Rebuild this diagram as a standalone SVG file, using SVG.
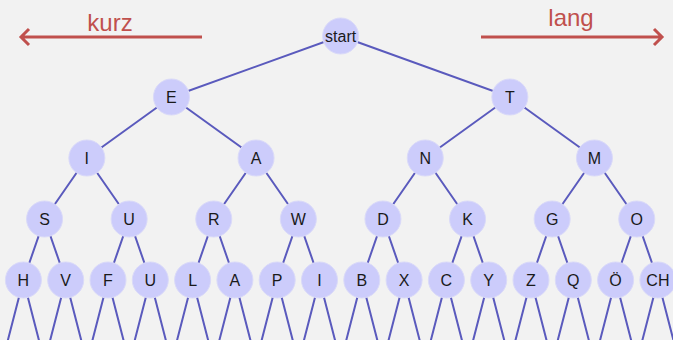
<svg xmlns="http://www.w3.org/2000/svg" width="673" height="340" viewBox="0 0 673 340">
<style>
.e{stroke:#5a5abd;stroke-width:2;fill:none}
.n circle{fill:#ccccfb;stroke:#dadaf9;stroke-width:1}
.n text{font-family:"Liberation Sans",Arial,sans-serif;font-size:16px;fill:#1a1a1a;text-anchor:middle}
.a{stroke:#c0504d;stroke-width:3;fill:none}
.t{font-family:"Liberation Sans",Arial,sans-serif;font-size:24px;fill:#c0504d;text-anchor:middle}
</style>
<rect width="673" height="340" fill="#f2f2f2"/>
<g id="arrows">
<path class="a" d="M202 37 H21 M29 29 L21 37 L29 45"/>
<path class="a" d="M481 37 H662 M654 29 L662 37 L654 45"/>
<text class="t" x="110" y="31">kurz</text>
<text class="t" x="571" y="26">lang</text>
</g>
<g id="edges">
<path class="e" d="M340.65 36 L171.45 97 M340.65 36 L509.85 97
M171.45 97 L86.85 158 M171.45 97 L256.05 158 M509.85 97 L425.25 158 M509.85 97 L594.45 158
M86.85 158 L44.55 219 M86.85 158 L129.15 219 M256.05 158 L213.75 219 M256.05 158 L298.35 219
M425.25 158 L382.95 219 M425.25 158 L467.55 219 M594.45 158 L552.15 219 M594.45 158 L636.75 219
M44.55 219 L23.4 280 M44.55 219 L65.7 280 M129.15 219 L108 280 M129.15 219 L150.3 280
M213.75 219 L192.6 280 M213.75 219 L234.9 280 M298.35 219 L277.2 280 M298.35 219 L319.5 280
M382.95 219 L361.8 280 M382.95 219 L404.1 280 M467.55 219 L446.4 280 M467.55 219 L488.7 280
M552.15 219 L531 280 M552.15 219 L573.3 280 M636.75 219 L615.6 280 M636.75 219 L657.9 280
M23.4 280 l-16 62 M23.4 280 l16 62 M65.7 280 l-16 62 M65.7 280 l16 62
M108 280 l-16 62 M108 280 l16 62 M150.3 280 l-16 62 M150.3 280 l16 62
M192.6 280 l-16 62 M192.6 280 l16 62 M234.9 280 l-16 62 M234.9 280 l16 62
M277.2 280 l-16 62 M277.2 280 l16 62 M319.5 280 l-16 62 M319.5 280 l16 62
M361.8 280 l-16 62 M361.8 280 l16 62 M404.1 280 l-16 62 M404.1 280 l16 62
M446.4 280 l-16 62 M446.4 280 l16 62 M488.7 280 l-16 62 M488.7 280 l16 62
M531 280 l-16 62 M531 280 l16 62 M573.3 280 l-16 62 M573.3 280 l16 62
M615.6 280 l-16 62 M615.6 280 l16 62 M657.9 280 l-16 62 M657.9 280 l16 62"/>
</g>
<g id="n-start" class="n"><circle cx="340.65" cy="36" r="18"/><text x="340.65" y="42">start</text></g>
<g id="n-E" class="n"><circle cx="171.45" cy="97" r="18"/><text x="171.45" y="103">E</text></g>
<g id="n-T" class="n"><circle cx="509.85" cy="97" r="18"/><text x="509.85" y="103">T</text></g>
<g id="n-I" class="n"><circle cx="86.85" cy="158" r="18"/><text x="86.85" y="164">I</text></g>
<g id="n-A" class="n"><circle cx="256.05" cy="158" r="18"/><text x="256.05" y="164">A</text></g>
<g id="n-N" class="n"><circle cx="425.25" cy="158" r="18"/><text x="425.25" y="164">N</text></g>
<g id="n-M" class="n"><circle cx="594.45" cy="158" r="18"/><text x="594.45" y="164">M</text></g>
<g id="n-S" class="n"><circle cx="44.55" cy="219" r="18"/><text x="44.55" y="225">S</text></g>
<g id="n-U" class="n"><circle cx="129.15" cy="219" r="18"/><text x="129.15" y="225">U</text></g>
<g id="n-R" class="n"><circle cx="213.75" cy="219" r="18"/><text x="213.75" y="225">R</text></g>
<g id="n-W" class="n"><circle cx="298.35" cy="219" r="18"/><text x="298.35" y="225">W</text></g>
<g id="n-D" class="n"><circle cx="382.95" cy="219" r="18"/><text x="382.95" y="225">D</text></g>
<g id="n-K" class="n"><circle cx="467.55" cy="219" r="18"/><text x="467.55" y="225">K</text></g>
<g id="n-G" class="n"><circle cx="552.15" cy="219" r="18"/><text x="552.15" y="225">G</text></g>
<g id="n-O" class="n"><circle cx="636.75" cy="219" r="18"/><text x="636.75" y="225">O</text></g>
<g id="n-H" class="n"><circle cx="23.4" cy="280" r="18"/><text x="23.4" y="286">H</text></g>
<g id="n-V" class="n"><circle cx="65.7" cy="280" r="18"/><text x="65.7" y="286">V</text></g>
<g id="n-F" class="n"><circle cx="108" cy="280" r="18"/><text x="108" y="286">F</text></g>
<g id="n-UE" class="n"><circle cx="150.3" cy="280" r="18"/><text x="150.3" y="286">U</text></g>
<g id="n-L" class="n"><circle cx="192.6" cy="280" r="18"/><text x="192.6" y="286">L</text></g>
<g id="n-AE" class="n"><circle cx="234.9" cy="280" r="18"/><text x="234.9" y="286">A</text></g>
<g id="n-P" class="n"><circle cx="277.2" cy="280" r="18"/><text x="277.2" y="286">P</text></g>
<g id="n-I2" class="n"><circle cx="319.5" cy="280" r="18"/><text x="319.5" y="286">I</text></g>
<g id="n-B" class="n"><circle cx="361.8" cy="280" r="18"/><text x="361.8" y="286">B</text></g>
<g id="n-X" class="n"><circle cx="404.1" cy="280" r="18"/><text x="404.1" y="286">X</text></g>
<g id="n-C" class="n"><circle cx="446.4" cy="280" r="18"/><text x="446.4" y="286">C</text></g>
<g id="n-Y" class="n"><circle cx="488.7" cy="280" r="18"/><text x="488.7" y="286">Y</text></g>
<g id="n-Z" class="n"><circle cx="531" cy="280" r="18"/><text x="531" y="286">Z</text></g>
<g id="n-Q" class="n"><circle cx="573.3" cy="280" r="18"/><text x="573.3" y="286">Q</text></g>
<g id="n-OE" class="n"><circle cx="615.6" cy="280" r="18"/><text x="615.6" y="286">Ö</text></g>
<g id="n-CH" class="n"><circle cx="657.9" cy="280" r="18"/><text x="657.9" y="286">CH</text></g>
</svg>
